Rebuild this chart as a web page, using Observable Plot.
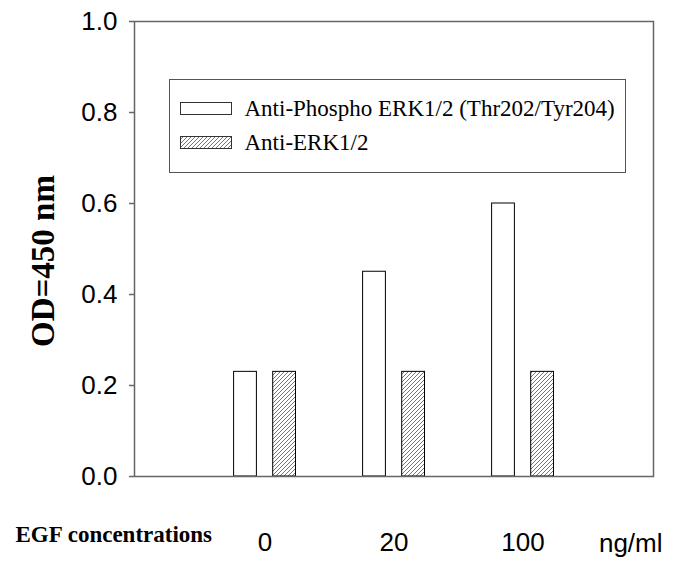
<!DOCTYPE html>
<html><head><meta charset="utf-8">
<script src="https://cdn.jsdelivr.net/npm/d3@7"></script>
<script src="https://cdn.jsdelivr.net/npm/@observablehq/plot@0.6"></script>
<style>
body{margin:0;background:#fff;}
#wrap{position:relative;width:678px;height:561px;}
#legend{position:absolute;left:169px;top:79px;width:457px;height:94px;box-sizing:border-box;border:1.5px solid #555;background:#fff;font-family:"Liberation Serif","Times New Roman",serif;font-size:23px;color:#000;}
.row{position:absolute;left:9.5px;display:flex;align-items:center;height:26px;white-space:nowrap;}
.sw{width:52px;height:13px;margin-right:13px;display:block;}
</style></head><body><div id="wrap"></div>
<script>
const concentrations = ["0", "20", "100"];
const seriesNames = ["Anti-Phospho ERK1/2 (Thr202/Tyr204)", "Anti-ERK1/2"];
const phosphoValues = [0.23, 0.45, 0.60];
const erkValues = [0.23, 0.23, 0.23];
const yTicks = [0, 0.2, 0.4, 0.6, 0.8, 1.0];
const yLabel = "OD=450 nm";
const xTitle = "EGF concentrations";
const xUnit = "ng/ml";

const data = concentrations.flatMap((c, i) => [
  {conc: c, series: seriesNames[0], value: phosphoValues[i]},
  {conc: c, series: seriesNames[1], value: erkValues[i]}
]);

const plot = Plot.plot({
  width: 678, height: 561,
  marginLeft: 134, marginRight: 25, marginTop: 21, marginBottom: 85,
  style: {fontFamily: "'Liberation Sans', Arial, sans-serif", background: "white", color: "black", overflow: "visible"},
  x: {domain: concentrations, paddingInner: 0, paddingOuter: 0.5, align: 0.5, label: null},
  y: {domain: [0, 1], label: null},
  marks: [
    Plot.barY(data.filter(d => d.series === seriesNames[0]), {x: "conc", y: "value", fill: "white", stroke: "black", strokeWidth: 1, insetLeft: 33.6, insetRight: 72.6}),
    Plot.barY(data.filter(d => d.series === seriesNames[1]), {x: "conc", y: "value", fill: "url(#hatch)", stroke: "black", strokeWidth: 1, insetLeft: 72.7, insetRight: 33.5}),
    Plot.frame({stroke: "#666", strokeWidth: 1.5}),
    Plot.axisY({ticks: yTicks, tickFormat: d3.format(".1f"), tickSize: 5, tickPadding: 12, fontSize: 26, stroke: "#666", strokeWidth: 1.5, fill: "black", label: null}),
    Plot.axisX({tickSize: 0, tickPadding: 56, fontSize: 26, fill: "black", label: null}),
    Plot.text([yLabel], {frameAnchor: "left", textAnchor: "middle", lineAnchor: "middle", rotate: -90, dx: -91, dy: 12, fontSize: 33, fontWeight: "bold", fontFamily: "'Liberation Serif', serif", fill: "black"}),
    Plot.text([xTitle], {frameAnchor: "bottom-left", textAnchor: "start", lineAnchor: "middle", dx: -119, dy: 58, fontSize: 23, fontWeight: "bold", fontFamily: "'Liberation Serif', serif", fill: "black"}),
    Plot.text([xUnit], {frameAnchor: "bottom-right", textAnchor: "end", lineAnchor: "middle", dx: 9, dy: 67, fontSize: 26, fill: "black"})
  ]
});

const defs = d3.select(plot).insert("defs", ":first-child");
const pat = defs.append("pattern").attr("id", "hatch").attr("patternUnits", "userSpaceOnUse").attr("width", 4).attr("height", 4);
pat.append("rect").attr("width", 4).attr("height", 4).attr("fill", "white");
pat.append("path").attr("d", "M-1,1 l2,-2 M0,4 l4,-4 M3,5 l2,-2").attr("stroke", "#666").attr("stroke-width", 0.9);

const wrap = document.getElementById("wrap");
wrap.appendChild(plot);

const legend = document.createElement("div");
legend.id = "legend";
const fills = ["white", "url(#hatch)"];
const tops = [15.5, 49.5];
seriesNames.forEach((name, i) => {
  const row = document.createElement("div");
  row.className = "row";
  row.style.top = tops[i] + "px";
  row.innerHTML = `<svg class="sw" width="52" height="13"><rect x="0.5" y="0.5" width="51" height="12" fill="${fills[i]}" stroke="#333" stroke-width="1"/></svg><span>${name}</span>`;
  legend.appendChild(row);
});
wrap.appendChild(legend);
</script>
</body></html>
